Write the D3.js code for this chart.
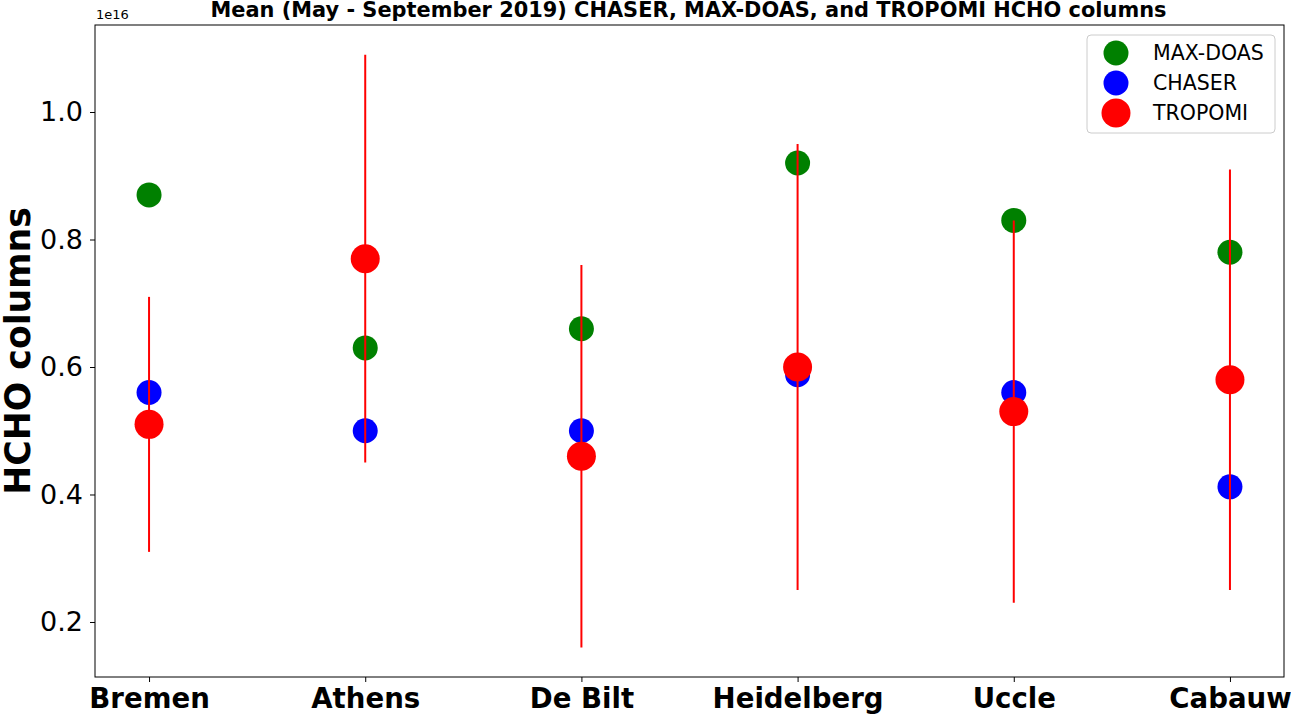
<!DOCTYPE html>
<html>
<head>
<meta charset="utf-8" />
<title>HCHO columns</title>
<style>
body { margin: 0; background: #fff; }
svg { font-family: "DejaVu Sans", sans-serif; }
</style>
</head>
<body>
<div id="chart"></div>
<script src="https://d3js.org/d3.v7.min.js"></script>
<script>
// values (molec/cm2)
var stations = ["Bremen", "Athens", "De Bilt", "Heidelberg", "Uccle", "Cabauw"];
var maxdoas = [0.87e16, 0.63e16, 0.66e16, 0.92e16, 0.83e16, 0.78e16];
var chaser = [0.56e16, 0.50e16, 0.50e16, 0.588e16, 0.56e16, 0.412e16];
var tropomi = [0.51e16, 0.77e16, 0.46e16, 0.60e16, 0.53e16, 0.58e16];
var tropomiLow = [0.31e16, 0.45e16, 0.16e16, 0.25e16, 0.23e16, 0.25e16];
var tropomiHigh = [0.71e16, 1.09e16, 0.76e16, 0.95e16, 0.83e16, 0.91e16];
var yTicks = [0.2e16, 0.4e16, 0.6e16, 0.8e16, 1.0e16];

var width = 1291, height = 715;
var plotLeft = 95, plotRight = 1284, plotTop = 25, plotBottom = 677;

var svg = d3.select("#chart").append("svg")
    .attr("width", width)
    .attr("height", height);

var x = d3.scaleLinear().domain([-0.25, stations.length - 0.75]).range([plotLeft, plotRight]);
var y = d3.scaleLinear().domain([0.1137e16, 1.1365e16]).range([plotBottom, plotTop]);

// axes
var xAxis = d3.axisBottom(x)
    .tickValues(d3.range(stations.length))
    .tickFormat(function(i) { return stations[i]; })
    .tickSize(5).tickPadding(6);
var gx = svg.append("g").attr("transform", "translate(0," + plotBottom + ")").call(xAxis);
gx.select(".domain").remove();
gx.selectAll("text").attr("font-size", "27.6px").attr("font-weight", "bold")
    .attr("font-family", "DejaVu Sans").attr("fill", "#000");

var yAxis = d3.axisLeft(y)
    .tickValues(yTicks)
    .tickFormat(function(v) { return (v / 1e16).toFixed(1); })
    .tickSize(5).tickPadding(7);
var gy = svg.append("g").attr("transform", "translate(" + plotLeft + ",0)").call(yAxis);
gy.select(".domain").remove();
gy.selectAll("text").attr("font-size", "27px").attr("font-family", "DejaVu Sans").attr("fill", "#000");

svg.append("text")
    .attr("x", plotLeft + 1).attr("y", 19)
    .attr("font-size", "13px")
    .text("1e16");

// series
function dots(values, color, r) {
    svg.append("g").selectAll("circle")
        .data(values).enter().append("circle")
        .attr("cx", function(d, i) { return x(i); })
        .attr("cy", function(d) { return y(d); })
        .attr("r", r)
        .attr("fill", color);
}
dots(maxdoas, "green", 12.5);
dots(chaser, "blue", 12.5);

svg.append("g").selectAll("line")
    .data(stations).enter().append("line")
    .attr("x1", function(d, i) { return x(i); })
    .attr("x2", function(d, i) { return x(i); })
    .attr("y1", function(d, i) { return y(tropomiLow[i]); })
    .attr("y2", function(d, i) { return y(tropomiHigh[i]); })
    .attr("stroke", "red")
    .attr("stroke-width", 2);

dots(tropomi, "red", 14.5);

// frame
svg.append("rect")
    .attr("x", plotLeft).attr("y", plotTop)
    .attr("width", plotRight - plotLeft).attr("height", plotBottom - plotTop)
    .attr("fill", "none").attr("stroke", "#000").attr("stroke-width", 1);

// titles
svg.append("text")
    .attr("x", (plotLeft + plotRight) / 2 - 1).attr("y", 17)
    .attr("text-anchor", "middle")
    .attr("font-size", "20.9px").attr("font-weight", "bold")
    .text("Mean (May - September 2019) CHASER, MAX-DOAS, and TROPOMI HCHO columns");

svg.append("text")
    .attr("transform", "translate(30," + ((plotTop + plotBottom) / 2) + ") rotate(-90)")
    .attr("text-anchor", "middle")
    .attr("font-size", "34.7px").attr("font-weight", "bold")
    .text("HCHO columns");

// legend
var legendItems = [
    { name: "MAX-DOAS", color: "green", r: 12.5 },
    { name: "CHASER", color: "blue", r: 12.5 },
    { name: "TROPOMI", color: "red", r: 14.5 }
];
var legend = svg.append("g").attr("transform", "translate(1087,35)");
legend.append("rect")
    .attr("width", 188).attr("height", 98).attr("rx", 4)
    .attr("fill", "#fff").attr("fill-opacity", 0.8)
    .attr("stroke", "#ccc");
var keys = legend.selectAll(".key")
    .data(legendItems).enter().append("g")
    .attr("class", "key")
    .attr("transform", function(d, i) { return "translate(0," + (18 + i * 30) + ")"; });
keys.append("circle")
    .attr("cx", 29).attr("r", function(d) { return d.r; })
    .attr("fill", function(d) { return d.color; });
keys.append("text")
    .attr("x", 66).attr("dy", "0.35em")
    .attr("font-size", "20.5px")
    .text(function(d) { return d.name; });
</script>
</body>
</html>
